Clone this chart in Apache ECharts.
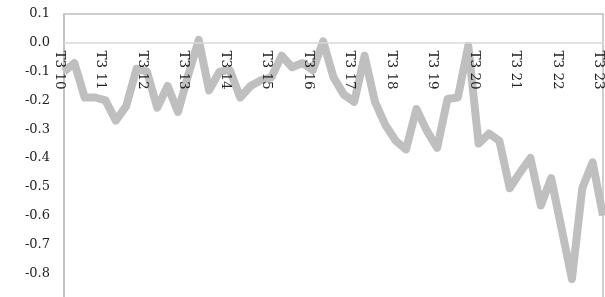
<!DOCTYPE html>
<html>
<head>
<meta charset="utf-8">
<script src="https://cdn.jsdelivr.net/npm/echarts@6/dist/echarts.min.js"></script>
<style>
  html, body { margin: 0; padding: 0; background: #fff; }
  #container { width: 605px; height: 297px; }
</style>
</head>
<body>
<div id="container"></div>
<script>
// quý: T3, T6, T9, T12 từ 2010 đến T3 2023
var years = ['10', '11', '12', '13', '14', '15', '16', '17', '18', '19', '20', '21', '22'];
var months = ['T3', 'T6', 'T9', 'T12'];
var categories = [];
years.forEach(function (y) {
    months.forEach(function (m) {
        categories.push(m + ' ' + y);
    });
});
categories.push('T3 23');

var values = [
    -0.10, -0.07, -0.19, -0.19, -0.20, -0.27, -0.22, -0.09, -0.10, -0.225,
    -0.15, -0.24, -0.11, 0.01, -0.165, -0.10, -0.095, -0.19, -0.15, -0.13,
    -0.12, -0.045, -0.085, -0.07, -0.095, 0.005, -0.12, -0.18, -0.205, -0.045,
    -0.205, -0.285, -0.34, -0.37, -0.23, -0.305, -0.365, -0.195, -0.19, -0.01,
    -0.35, -0.315, -0.34, -0.505, -0.45, -0.40, -0.565, -0.47, -0.645, -0.82,
    -0.505, -0.415, -0.60
];

var titleText = '(điểm phần trăm, % GDP)';

var font = '"DejaVu Serif", "Liberation Serif", serif';

var option = {
    animation: false,
    title: {
        text: titleText,
        left: 336,
        textAlign: 'center',
        top: -18,
        textStyle: { fontFamily: font, fontSize: 13, fontWeight: 'normal', color: '#222' }
    },
    grid: {
        left: 64,
        right: 2,
        top: 14,
        bottom: -5,
        outerBoundsMode: 'none',
        containLabel: false,
        show: true,
        borderColor: '#bfbfbf',
        borderWidth: 1.5
    },
    xAxis: {
        type: 'category',
        data: categories,
        boundaryGap: false,
        z: 5,
        // trục nằm ở mức 0: đẩy trục trên xuống 0.1 đơn vị (~28.5px)
        position: 'top',
        offset: -28.5,
        axisLine: { onZero: false, lineStyle: { color: '#d9d9d9', width: 1.5 } },
        axisTick: { show: false },
        axisLabel: {
            inside: true,
            interval: 3,
            rotate: 90,
            margin: 8,
            verticalAlign: 'top',
            lineHeight: 9,
            fontFamily: font,
            fontSize: 13.5,
            color: '#222'
        }
    },
    yAxis: {
        type: 'value',
        min: -0.9,
        max: 0.1,
        interval: 0.1,
        splitLine: { show: false },
        axisLine: { show: true, lineStyle: { color: '#bfbfbf', width: 1.5 } },
        axisLabel: {
            margin: 14,
            showMinLabel: false,
            fontFamily: font,
            fontSize: 13,
            color: '#222',
            formatter: function (v) { return v.toFixed(1); }
        }
    },
    series: [{
        type: 'line',
        data: values,
        showSymbol: false,
        lineStyle: { color: '#bfbfbf', width: 8, join: 'round', cap: 'butt' }
    }]
};

var myChart = echarts.init(document.getElementById('container'));
myChart.setOption(option);
</script>
</body>
</html>
